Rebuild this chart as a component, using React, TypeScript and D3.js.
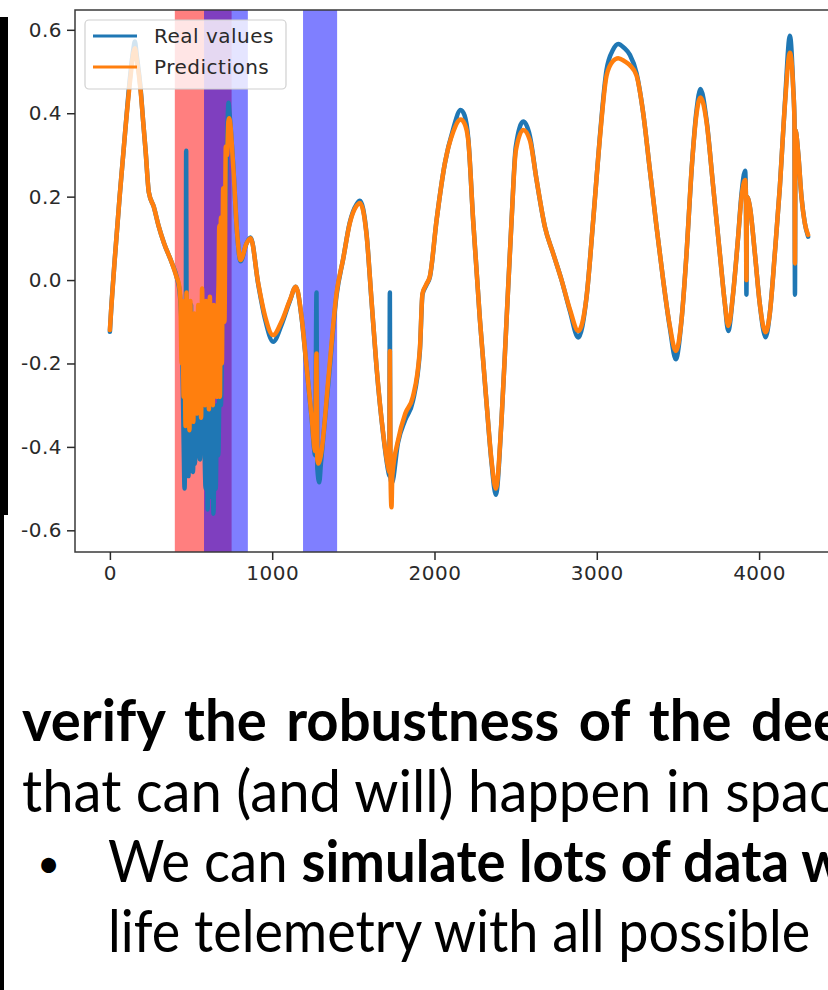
import React, { useEffect, useRef } from 'react';
import * as d3 from 'd3';

type Pt = [number, number];

// Real values (blue) as [sample index, value]
const realValues: Pt[] = [
  [0, -0.124], [8, -0.07], [30, 0.05], [60, 0.2], [95, 0.36], [125, 0.49], [145, 0.555], [154, 0.572],
  [165, 0.54], [189, 0.46], [205, 0.38], [220, 0.31], [240, 0.21], [271, 0.175], [300, 0.13], [333, 0.089],
  [382, 0.041], [413, 0.005],
  [430, -0.03], [445, -0.15], [455, -0.4], [460, -0.5], [465, -0.3], [468, -0.1], [470, 0.31], [472, -0.08],
  [478, -0.4], [484, -0.47], [490, -0.3], [495, -0.45], [500, -0.06], [505, -0.4], [512, -0.46], [518, -0.32],
  [524, -0.44], [530, -0.3], [536, -0.41], [542, -0.12], [548, -0.38], [555, -0.43], [562, -0.3], [568, -0.41],
  [575, -0.25], [582, -0.38], [590, -0.5], [596, -0.3], [602, -0.55], [608, -0.35], [614, -0.52], [620, -0.1],
  [626, -0.45], [632, -0.3], [638, -0.56], [645, -0.4], [652, -0.5], [660, -0.3], [668, -0.42], [676, -0.25],
  [684, -0.3], [692, -0.1], [700, 0.0], [706, 0.1], [712, 0.17], [718, 0.26], [724, 0.36], [731, 0.425],
  [737, 0.4], [760, 0.275], [784, 0.112], [805, 0.045], [842, 0.088], [867, 0.102], [914, -0.01],
  [955, -0.092], [1006, -0.148], [1057, -0.108], [1109, -0.05], [1146, -0.016], [1181, -0.09], [1212, -0.21],
  [1243, -0.33], [1265, -0.42], [1273, -0.03], [1278, -0.45], [1290, -0.485], [1300, -0.44], [1350, -0.23],
  [1397, -0.035], [1437, 0.05], [1478, 0.138], [1520, 0.182], [1540, 0.19], [1581, 0.112], [1612, -0.05],
  [1643, -0.21], [1684, -0.37], [1715, -0.458], [1722, -0.47], [1725, -0.03], [1728, -0.47], [1737, -0.487],
  [1775, -0.39], [1820, -0.335], [1867, -0.29], [1910, -0.17], [1926, -0.035], [1950, -0.012], [1972, 0.008],
  [2013, 0.144], [2064, 0.28], [2115, 0.362], [2161, 0.408], [2185, 0.395], [2208, 0.34], [2238, 0.144],
  [2280, -0.096], [2321, -0.296], [2352, -0.44], [2378, -0.515], [2413, -0.336], [2444, -0.096], [2475, 0.144],
  [2501, 0.32], [2547, 0.38], [2588, 0.345], [2629, 0.24], [2680, 0.128], [2731, 0.064], [2783, 0.0],
  [2834, -0.074], [2886, -0.138], [2937, -0.04], [2978, 0.144], [3019, 0.344], [3060, 0.504], [3100, 0.552],
  [3132, 0.566], [3170, 0.556], [3204, 0.54], [3245, 0.496], [3286, 0.4], [3327, 0.264], [3368, 0.128],
  [3409, 0.0], [3450, -0.114], [3487, -0.19], [3522, -0.096], [3553, 0.064], [3584, 0.264], [3615, 0.408],
  [3639, 0.458], [3676, 0.384], [3717, 0.224], [3758, 0.064], [3789, -0.056], [3810, -0.122], [3840, -0.032],
  [3871, 0.104], [3892, 0.208], [3914, 0.262], [3919, 0.2], [3922, -0.035], [3925, 0.2], [3943, 0.176],
  [3974, 0.064], [4004, -0.056], [4040, -0.137], [4066, -0.08], [4097, 0.064], [4128, 0.224], [4159, 0.424],
  [4190, 0.586], [4210, 0.464], [4218, 0.38], [4221, -0.035], [4224, 0.36], [4241, 0.304], [4261, 0.2],
  [4282, 0.136], [4302, 0.104],
];

// Predictions (orange)
const predictions: Pt[] = [
  [0, -0.12], [8, -0.07], [30, 0.05], [60, 0.2], [95, 0.36], [125, 0.48], [145, 0.545], [154, 0.556],
  [165, 0.53], [189, 0.455], [205, 0.38], [220, 0.31], [240, 0.21], [271, 0.175], [300, 0.13], [333, 0.089],
  [382, 0.041], [413, 0.005],
  [425, -0.01], [435, -0.05], [442, -0.2], [448, -0.05], [454, -0.28], [460, -0.12], [466, -0.35], [472, -0.03],
  [478, -0.3], [484, -0.1], [490, -0.36], [496, -0.05], [502, -0.3], [508, -0.15], [514, -0.34], [520, -0.08],
  [526, -0.28], [532, -0.12], [538, -0.32], [544, -0.06], [550, -0.26], [556, -0.14], [562, -0.33], [568, -0.02],
  [574, -0.25], [580, -0.1], [586, -0.3], [592, -0.05], [598, -0.24], [604, -0.12], [610, -0.31], [616, -0.04],
  [622, -0.22], [628, -0.15], [634, -0.3], [640, -0.06], [646, -0.25], [652, -0.1], [658, -0.28], [664, -0.08],
  [670, 0.0], [674, 0.13], [678, -0.28], [684, 0.15], [690, -0.2], [698, 0.22], [706, -0.1], [714, 0.32],
  [722, 0.3], [730, 0.38], [735, 0.388],
  [760, 0.272], [784, 0.112], [805, 0.048], [842, 0.088], [867, 0.1], [914, -0.008], [955, -0.085],
  [1006, -0.132], [1057, -0.1], [1109, -0.048], [1146, -0.016], [1181, -0.088], [1212, -0.208], [1243, -0.328],
  [1265, -0.41], [1273, -0.176], [1278, -0.43], [1284, -0.44], [1300, -0.42], [1350, -0.22], [1397, -0.03],
  [1437, 0.05], [1478, 0.136], [1520, 0.178], [1540, 0.185], [1581, 0.11], [1612, -0.048], [1643, -0.208],
  [1684, -0.368], [1715, -0.45], [1722, -0.46], [1725, -0.17], [1729, -0.46], [1735, -0.545], [1740, -0.47],
  [1775, -0.385], [1820, -0.32], [1867, -0.28], [1910, -0.165], [1926, -0.032], [1950, -0.01], [1972, 0.01],
  [2013, 0.144], [2064, 0.28], [2115, 0.355], [2161, 0.385], [2185, 0.375], [2208, 0.335], [2238, 0.144],
  [2280, -0.096], [2321, -0.296], [2352, -0.435], [2378, -0.5], [2413, -0.336], [2444, -0.096], [2475, 0.144],
  [2501, 0.31], [2547, 0.36], [2588, 0.335], [2629, 0.24], [2680, 0.128], [2731, 0.064], [2783, 0.0],
  [2834, -0.07], [2886, -0.122], [2937, -0.04], [2978, 0.144], [3019, 0.34], [3060, 0.49], [3100, 0.525],
  [3132, 0.532], [3170, 0.525], [3204, 0.515], [3245, 0.49], [3286, 0.4], [3327, 0.264], [3368, 0.128],
  [3409, 0.0], [3450, -0.11], [3487, -0.17], [3522, -0.096], [3553, 0.064], [3584, 0.264], [3615, 0.4],
  [3639, 0.438], [3676, 0.38], [3717, 0.224], [3758, 0.064], [3789, -0.056], [3810, -0.11], [3840, -0.032],
  [3871, 0.104], [3892, 0.2], [3914, 0.24], [3919, 0.2], [3922, 0.0], [3925, 0.2], [3943, 0.176],
  [3974, 0.064], [4004, -0.056], [4040, -0.125], [4066, -0.08], [4097, 0.064], [4128, 0.224], [4159, 0.42],
  [4190, 0.545], [4210, 0.46], [4218, 0.38], [4221, 0.04], [4224, 0.36], [4241, 0.304], [4261, 0.2],
  [4282, 0.136], [4302, 0.108],
];

// shaded spans [start, end, colour]
const spans: [number, number, string][] = [
  [400, 750, 'red'],
  [580, 850, 'blue'],
  [1190, 1400, 'blue'],
];

const xTicks = [0, 1000, 2000, 3000, 4000];
const yTicks = [-0.6, -0.4, -0.2, 0.0, 0.2, 0.4, 0.6];
const legendLabels = ['Real values', 'Predictions'];
const seriesColors = ['#1f77b4', '#ff7f0e'];

const Chart = () => {
  const svgRef = useRef<SVGSVGElement>(null);

  useEffect(() => {
    const svg = d3.select(svgRef.current);
    svg.selectAll('*').remove();

    svg.append('rect').attr('width', 828).attr('height', 990).attr('fill', '#fff');

    // slide edge on the left
    svg.append('rect').attr('x', 0).attr('y', 17).attr('width', 8).attr('height', 498).attr('fill', '#000');
    svg.append('rect').attr('x', 0).attr('y', 515).attr('width', 4).attr('height', 475).attr('fill', '#000');

    const x = d3.scaleLinear().domain([-215, 4517]).range([75, 843]);
    const y = d3.scaleLinear().domain([-0.652, 0.6475]).range([552, 10]);

    const g = svg.append('g');

    // Spans
    spans.forEach(([a, b, c]) => {
      g.append('rect')
        .attr('x', x(a))
        .attr('y', y.range()[1])
        .attr('width', x(b) - x(a))
        .attr('height', y.range()[0] - y.range()[1])
        .attr('fill', c)
        .attr('fill-opacity', 0.5);
    });

    // Lines
    const line = d3.line<Pt>()
      .x(d => x(d[0]))
      .y(d => y(d[1]))
      .curve(d3.curveMonotoneX);

    [realValues, predictions].forEach((s, i) => {
      g.append('path')
        .datum(s)
        .attr('d', line)
        .attr('fill', 'none')
        .attr('stroke', seriesColors[i])
        .attr('stroke-width', 4.5)
        .attr('stroke-linejoin', 'round')
        .attr('stroke-linecap', 'round');
    });

    // Frame
    const [x0, x1] = x.range();
    const [y0, y1] = y.range();
    g.append('rect')
      .attr('x', x0).attr('y', y1)
      .attr('width', x1 - x0).attr('height', y0 - y1)
      .attr('fill', 'none')
      .attr('stroke', '#3a3a3a')
      .attr('stroke-width', 1.5);

    // Axes
    const tickColor = '#2a2a2a';
    const yAxis = g.append('g')
      .attr('transform', `translate(${x0},0)`)
      .call(d3.axisLeft(y).tickValues(yTicks).tickSize(8).tickPadding(5).tickFormat(d3.format('.1f')));
    const xAxis = g.append('g')
      .attr('transform', `translate(0,${y0})`)
      .call(d3.axisBottom(x).tickValues(xTicks).tickSize(8).tickPadding(6).tickFormat(d3.format('d')));

    [yAxis, xAxis].forEach(ax => {
      ax.attr('font-size', 20).attr('font-family', '"DejaVu Sans", sans-serif');
      ax.select('.domain').remove();
      ax.selectAll('line').attr('stroke', tickColor).attr('stroke-width', 1.5);
      ax.selectAll('text')
        .attr('fill', tickColor)
        .attr('font-size', 20)
        .style('letter-spacing', '0.5px');
    });
    yAxis.selectAll('text').text((d: any) => d3.format('.1f')(d).replace('−', '-'));

    // Legend
    const legend = g.append('g');
    legend.append('rect')
      .attr('x', 85).attr('y', 20).attr('width', 201).attr('height', 69).attr('rx', 4)
      .attr('fill', '#fff').attr('fill-opacity', 0.8)
      .attr('stroke', '#d0d0d0').attr('stroke-width', 1.2);
    legendLabels.forEach((lab, i) => {
      const ly = 36 + i * 31;
      legend.append('line')
        .attr('x1', 93).attr('x2', 137).attr('y1', ly).attr('y2', ly)
        .attr('stroke', seriesColors[i]).attr('stroke-width', 3);
      legend.append('text')
        .attr('x', 154).attr('y', ly + 7)
        .attr('fill', '#2a2a2a')
        .attr('font-family', '"DejaVu Sans", sans-serif')
        .attr('font-size', 20)
        .style('letter-spacing', '0.5px')
        .text(lab);
    });
  }, []);

  return (
    <svg
      ref={svgRef}
      width={828}
      height={990}
      style={{ position: 'absolute', left: 0, top: 0, display: 'block' }}
    />
  );
};

const App = () => {
  const font = 'Lato, "Open Sans", sans-serif';
  return (
    <div style={{ position: 'absolute', left: 0, top: 0, width: 828, height: 990, overflow: 'hidden' }}>
      <Chart />
      <svg width={828} height={990} style={{ position: 'absolute', left: 0, top: 0 }}>
        <g style={{ fontFamily: font, fontSize: 58 }} fill="#000">
          <text transform="translate(22,741) scale(0.97,1)" fontWeight="bold" wordSpacing={6}>
            verify the robustness of the deep
          </text>
          <text transform="translate(22,812) scale(0.97,1)">that can (and will) happen in space</text>
          <text x={37} y={878} fontSize={40}>•</text>
          <text transform="translate(108,882) scale(0.94,1)">
            We can <tspan fontWeight="bold">simulate lots of data with</tspan>
          </text>
          <text transform="translate(108,952) scale(0.93,1)">life telemetry with all possible</text>
        </g>
      </svg>
    </div>
  );
};

export default App;
